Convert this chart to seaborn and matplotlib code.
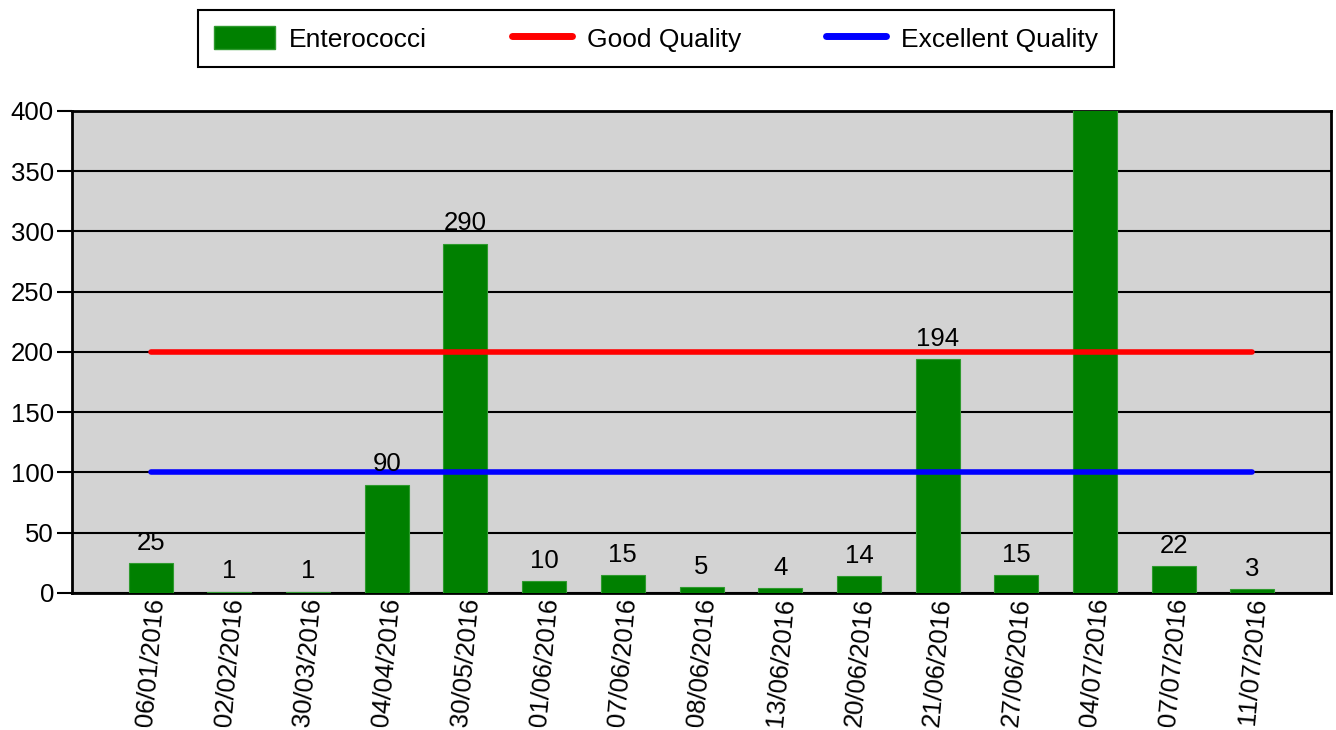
import numpy as np
import pandas as pd
import matplotlib
matplotlib.use("Agg")
import matplotlib.pyplot as plt
import seaborn as sns
from matplotlib.patches import Patch
from matplotlib.lines import Line2D

dates = ["06/01/2016", "02/02/2016", "30/03/2016", "04/04/2016", "30/05/2016",
         "01/06/2016", "07/06/2016", "08/06/2016", "13/06/2016", "20/06/2016",
         "21/06/2016", "27/06/2016", "04/07/2016", "07/07/2016", "11/07/2016"]
enterococci = [25, 1, 1, 90, 290, 10, 15, 5, 4, 14, 194, 15, 440, 22, 3]
good_quality = 200
excellent_quality = 100
y_ticks = [0, 50, 100, 150, 200, 250, 300, 350, 400]

sns.set_style("white")
plt.rcParams['font.family'] = ['Liberation Sans', 'DejaVu Sans']
plt.rcParams['text.color'] = 'black'
plt.rcParams['xtick.color'] = 'black'
plt.rcParams['ytick.color'] = 'black'
plt.rcParams['axes.labelcolor'] = 'black'

fig = plt.figure(figsize=(13.36, 7.30), dpi=100)
ax = fig.add_axes([0.0539, 0.1877, 0.9424, 0.6603])
ax.set_facecolor("#d3d3d3")

df = pd.DataFrame({"date": dates, "value": enterococci})
sns.barplot(data=df, x="date", y="value", color="#008000", width=0.56,
            saturation=1, ax=ax, zorder=3, edgecolor="#2e9a2e", linewidth=0.8)

pos = np.arange(len(dates))
sns.lineplot(x=pos, y=[good_quality] * len(pos), color="#ff0000", linewidth=4,
             ax=ax, zorder=4, solid_capstyle="round")
sns.lineplot(x=pos, y=[excellent_quality] * len(pos), color="#0000ff", linewidth=4,
             ax=ax, zorder=4, solid_capstyle="round")

ax.set_ylim(0, 400)
ax.set_xlim(-1, len(dates))
ax.set_yticks(y_ticks)
ax.set_yticklabels([str(t) for t in y_ticks], fontsize=18.5, color="black")
ax.set_xticks(pos)
ax.set_xticklabels(dates, rotation=85, fontsize=18.5, ha="center", va="top", color="black")
ax.tick_params(axis="y", direction="out", length=11, width=1.5, color="black", pad=2, left=True)
ax.tick_params(axis="x", length=0, pad=3)
ax.grid(axis="y", color="black", linewidth=1.5, zorder=1)
ax.set_axisbelow(True)
ax.set_xlabel("")
ax.set_ylabel("")
for s in ax.spines.values():
    s.set_visible(True)
    s.set_color("black")
    s.set_linewidth(2)

labels = [str(v) if v <= 400 else "" for v in enterococci]
ax.bar_label(ax.containers[0], labels=labels, padding=6, fontsize=18.5, color="black", zorder=5)

handles = [Patch(facecolor="#008000", edgecolor="#2e9a2e"),
           Line2D([0], [0], color="#ff0000", linewidth=5),
           Line2D([0], [0], color="#0000ff", linewidth=5)]
leg = fig.legend(handles, ["Enterococci", "Good Quality", "Excellent Quality"],
                 loc="center", bbox_to_anchor=(0.491, 0.947), ncol=3, fontsize=19,
                 frameon=True, fancybox=False, handlelength=2.3, handleheight=1.0,
                 handletextpad=0.55, columnspacing=3.2, borderpad=0.6,
                 borderaxespad=0)
leg.get_frame().set_edgecolor("black")
leg.get_frame().set_linewidth(1.5)
leg.get_frame().set_alpha(1)
for t in leg.get_texts():
    t.set_color("black")

fig.savefig("out.png", dpi=100, facecolor="white")
